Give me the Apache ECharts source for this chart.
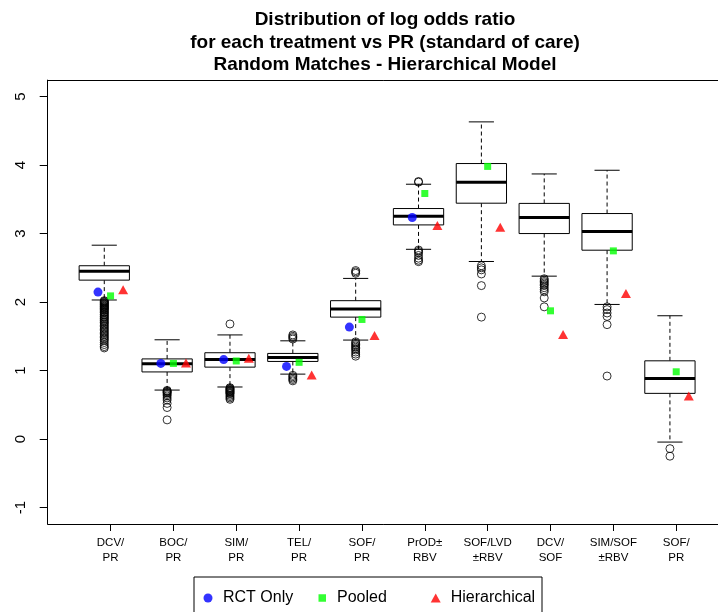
<!DOCTYPE html>
<html>
<head>
<meta charset="utf-8">
<script src="https://cdn.jsdelivr.net/npm/echarts@6/dist/echarts.min.js"></script>
<style>
  html, body { margin: 0; padding: 0; background: #fff; }
  #chart { width: 718px; height: 612px; }
</style>
</head>
<body>
<div id="chart"></div>
<script>
// Treatments compared against PR (standard of care)
const categories = ['DCV/\nPR', 'BOC/\nPR', 'SIM/\nPR', 'TEL/\nPR', 'SOF/\nPR',
                    'PrOD\u00b1\nRBV', 'SOF/LVD\n\u00b1RBV', 'DCV/\nSOF', 'SIM/SOF\n\u00b1RBV', 'SOF/\nPR'];

// Five-number summaries of the simulated log odds ratios
const whiskerLow  = [2.03, 0.715, 0.76, 0.948, 1.445, 2.77, 2.592, 2.378, 1.965, -0.044];
const quartile1   = [2.32, 0.98, 1.05, 1.133, 1.78, 3.126, 3.443, 3.00, 2.757, 0.667];
const medians     = [2.45, 1.10, 1.16, 1.19, 1.90, 3.253, 3.75, 3.234, 3.03, 0.885];
const quartile3   = [2.53, 1.17, 1.26, 1.25, 2.02, 3.365, 4.022, 3.44, 3.292, 1.142];
const whiskerHigh = [2.83, 1.449, 1.52, 1.434, 2.345, 3.72, 4.63, 3.87, 3.924, 1.80];

// Values beyond the whiskers
const outliers = [
  [2.02, 2.01, 2.00, 1.99, 1.98, 1.97, 1.96, 1.95, 1.94, 1.93, 1.92, 1.91, 1.90, 1.89, 1.88,
   1.86, 1.85, 1.84, 1.82, 1.81, 1.79, 1.78, 1.76, 1.75, 1.73, 1.71, 1.70, 1.68, 1.66, 1.64,
   1.62, 1.60, 1.58, 1.56, 1.54, 1.52, 1.50, 1.48, 1.46, 1.44, 1.41, 1.38, 1.35, 1.33],
  [0.71, 0.70, 0.69, 0.68, 0.67, 0.65, 0.63, 0.60, 0.57, 0.52, 0.46, 0.28],
  [1.68, 0.75, 0.74, 0.73, 0.72, 0.71, 0.70, 0.69, 0.68, 0.67, 0.66, 0.64, 0.62, 0.60, 0.58],
  [1.52, 1.50, 1.48, 1.46, 0.93, 0.91, 0.89, 0.87, 0.85],
  [2.46, 2.44, 2.42, 1.42, 1.40, 1.38, 1.36, 1.34, 1.32, 1.30, 1.27, 1.24, 1.21],
  [3.76, 3.75, 2.76, 2.74, 2.72, 2.68, 2.64, 2.61, 2.59],
  [2.53, 2.50, 2.47, 2.41, 2.24, 1.78],
  [2.34, 2.32, 2.30, 2.28, 2.26, 2.24, 2.21, 2.18, 2.15, 2.06, 1.93],
  [1.93, 1.89, 1.84, 1.79, 1.67, 0.92],
  [-0.14, -0.25]
];

// Point estimates from the three models (null = not available)
const rctOnly      = [2.145, 1.104, 1.16, 1.06, 1.634, 3.234, null, null, null, null];
const pooled       = [2.09, 1.104, 1.14, 1.12, 1.746, 3.585, 3.98, 1.872, 2.747, 0.982];
const hierarchical = [2.18, 1.11, 1.178, 0.934, 1.51, 3.117, 3.093, 1.527, 2.125, 0.627];

const yTicks = [-1, 0, 1, 2, 3, 4, 5];

const FONT = 'Liberation Sans, Arial, Helvetica, sans-serif';
const labelShift = 0.1;          // axis labels sit slightly right of the boxes
const positions = categories.map((_, i) => i + 1);
const tickPositions = positions.map(p => p + labelShift);

const boxData = positions.map((p, i) =>
  [p, whiskerLow[i], quartile1[i], medians[i], quartile3[i], whiskerHigh[i]]);

const outlierData = [];
outliers.forEach((vals, i) => vals.forEach(v => outlierData.push([positions[i], v])));

function pointSeries(values, offset) {
  return values.map((v, i) => (v == null ? null : [positions[i] + offset, v])).filter(d => d);
}

function renderBox(params, api) {
  const x = api.value(0);
  const lo = api.value(1), q1 = api.value(2), md = api.value(3), q3 = api.value(4), hi = api.value(5);
  const half = 0.4, cap = 0.2;
  const c = (xx, yy) => api.coord([xx, yy]);
  const seg = (a, b, style) => ({ type: 'line', shape: { x1: a[0], y1: a[1], x2: b[0], y2: b[1] }, style });
  const solid = { stroke: '#000', lineWidth: 1 };
  const dashed = { stroke: '#000', lineWidth: 1, lineDash: [4, 3] };
  const tl = c(x - half, q3), br = c(x + half, q1);
  return {
    type: 'group',
    children: [
      seg(c(x, q3), c(x, hi), dashed),
      seg(c(x, q1), c(x, lo), dashed),
      seg(c(x - cap, hi), c(x + cap, hi), solid),
      seg(c(x - cap, lo), c(x + cap, lo), solid),
      { type: 'rect', shape: { x: tl[0], y: tl[1], width: br[0] - tl[0], height: br[1] - tl[1] },
        style: { fill: '#fff', stroke: '#000', lineWidth: 1 } },
      seg(c(x - half, md), c(x + half, md), { stroke: '#000', lineWidth: 3 })
    ]
  };
}

const chart = echarts.init(document.getElementById('chart'), null, { renderer: 'canvas' });

// One legend block per entry so each key sits in its own column
function legendFor(name, icon, left, w, h, gap) {
  return {
    data: [name], icon, left, top: 590, padding: 0, itemWidth: w, itemHeight: h,
    selectedMode: false,
    textStyle: { fontFamily: FONT, fontSize: 16, color: '#000', padding: [0, 0, 0, gap] }
  };
}

const frameLine = { show: true, onZero: false, lineStyle: { color: '#000', width: 1 } };
const titleFont = 'bold 19px ' + FONT;
chart.setOption({
  animation: false,
  backgroundColor: '#fff',
  graphic: [
    { type: 'text', x: 385, y: 20, style: { text: 'Distribution of log odds ratio', font: titleFont, textAlign: 'center', textVerticalAlign: 'middle', fill: '#000' } },
    { type: 'text', x: 385, y: 43, style: { text: 'for each treatment vs PR (standard of care)', font: titleFont, textAlign: 'center', textVerticalAlign: 'middle', fill: '#000' } },
    { type: 'text', x: 385, y: 65, style: { text: 'Random Matches - Hierarchical Model', font: titleFont, textAlign: 'center', textVerticalAlign: 'middle', fill: '#000' } },
    { type: 'rect', shape: { x: 194, y: 577, width: 348, height: 60 }, style: { fill: 'none', stroke: '#000', lineWidth: 1 } }
  ],
  legend: [
    legendFor('RCT Only', 'circle', 203.5, 9, 9, 5.5),
    legendFor('Pooled', 'rect', 318.5, 7.5, 7.5, 6),
    legendFor('Hierarchical', 'triangle', 430.7, 10, 9, 5)
  ],
  grid: {
    show: false, left: 47.7, top: 80.1, width: 678.8, height: 443.9,
    outerBoundsMode: 'none', containLabel: false
  },
  xAxis: [
    {
      type: 'value', min: 0.1, max: 10.9, position: 'bottom',
      axisLine: frameLine,
      splitLine: { show: false },
      axisTick: { show: true, length: 7, lineStyle: { color: '#000' }, customValues: tickPositions },
      axisLabel: {
        customValues: tickPositions, margin: 11, fontFamily: FONT, fontSize: 11.5, lineHeight: 15, color: '#000',
        formatter: v => categories[Math.round(v - labelShift) - 1] || ''
      }
    },
    {
      // top edge of the plot frame
      type: 'value', min: 0.1, max: 10.9, position: 'top',
      axisLine: frameLine, axisTick: { show: false }, axisLabel: { show: false }, splitLine: { show: false }
    }
  ],
  yAxis: {
    type: 'value', min: -1.24, max: 5.24,
    axisLine: frameLine,
    splitLine: { show: false },
    axisTick: { show: true, length: 8, lineStyle: { color: '#000' }, customValues: yTicks },
    axisLabel: { customValues: yTicks, rotate: 90, margin: 19, fontFamily: FONT, fontSize: 15, color: '#000' }
  },
  series: [
    { type: 'custom', name: 'box', renderItem: renderBox, data: boxData, encode: { x: 0, y: [1, 2, 3, 4, 5] }, z: 1, silent: true },
    { type: 'scatter', name: 'outliers', data: outlierData, symbol: 'circle', symbolSize: 8,
      itemStyle: { color: 'rgba(0,0,0,0)', borderColor: '#000', borderWidth: 1 }, z: 2, silent: true },
    { type: 'scatter', name: 'RCT Only', data: pointSeries(rctOnly, -0.1), symbol: 'circle', symbolSize: 9,
      itemStyle: { color: '#0000ff' }, z: 3 },
    { type: 'scatter', name: 'Pooled', data: pointSeries(pooled, 0.1), symbol: 'rect', symbolSize: 7,
      itemStyle: { color: '#00ff00' }, z: 3 },
    { type: 'scatter', name: 'Hierarchical', data: pointSeries(hierarchical, 0.3), symbol: 'triangle', symbolSize: [10, 9],
      itemStyle: { color: '#ff0000' }, z: 3 }
  ]
});
</script>
</body>
</html>
